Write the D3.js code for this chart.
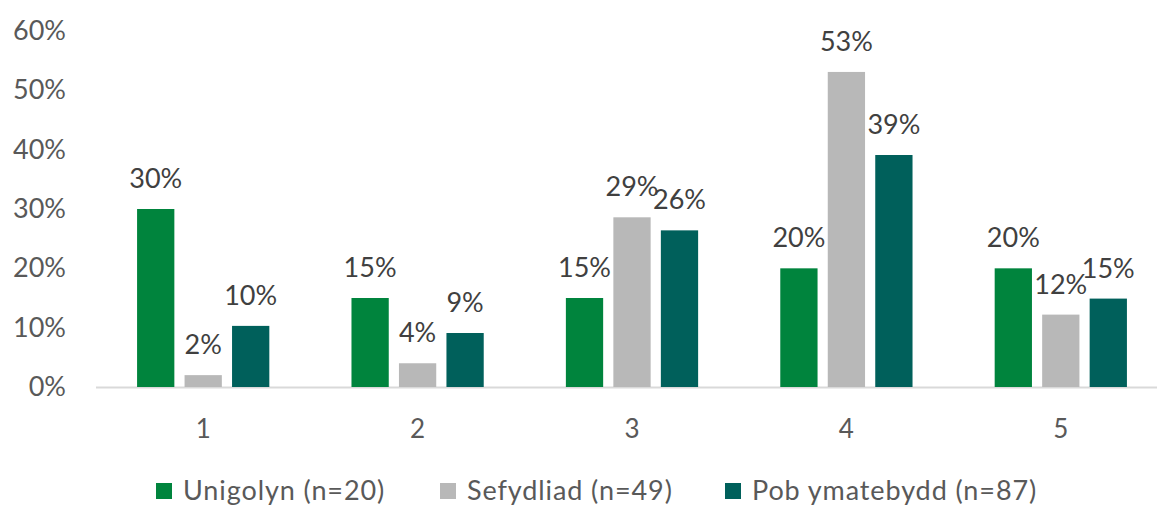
<!DOCTYPE html>
<html>
<head>
<meta charset="utf-8">
<script src="https://cdn.jsdelivr.net/npm/d3@7"></script>
<style>
  body { margin: 0; background: #fff; }
  text { font-family: Lato, "Open Sans", sans-serif; }
</style>
</head>
<body>
<div id="chart"></div>
<script>
// categories and series (percent values)
const categories = ["1", "2", "3", "4", "5"];
const seriesNames = ["Unigolyn (n=20)", "Sefydliad (n=49)", "Pob ymatebydd (n=87)"];
const unigolyn = [30, 15, 15, 20, 20];
const sefydliad = [2.0, 4.0, 28.6, 53.1, 12.2];
const pobYmatebydd = [10.3, 9.1, 26.4, 39.1, 14.9];
const yTicks = [0, 10, 20, 30, 40, 50, 60];
const colors = ["#00843d", "#b8b8b8", "#00605b"];

const seriesValues = [unigolyn, sefydliad, pobYmatebydd];

const width = 1157, height = 506;

const svg = d3.select("#chart")
  .append("svg")
  .attr("width", width)
  .attr("height", height);

const x = d3.scaleBand()
  .domain(categories)
  .range([96, 1168]);

const xSub = d3.scaleBand()
  .domain(seriesNames)
  .range([0, x.bandwidth()])
  .paddingInner(0.215)
  .paddingOuter(0.865);

const y = d3.scaleLinear()
  .domain([0, 60])
  .range([387, 31]);

// y axis labels
const yAxis = d3.axisLeft(y)
  .tickValues(yTicks)
  .tickSize(0)
  .tickPadding(0)
  .tickFormat(d => d + "%");

svg.append("g")
  .attr("transform", "translate(66,0)")
  .call(yAxis)
  .call(g => g.select(".domain").remove())
  .selectAll("text")
  .attr("font-size", 27)
  .attr("fill", "#595959")
  .style("font-family", "Lato, 'Open Sans', sans-serif");

// baseline
svg.append("line")
  .attr("x1", 96).attr("x2", 1168)
  .attr("y1", y(0) + 0.5).attr("y2", y(0) + 0.5)
  .attr("stroke", "#d9d9d9")
  .attr("stroke-width", 2);

// category labels
const xAxis = d3.axisBottom(x).tickSize(0).tickPadding(0);
svg.append("g")
  .attr("transform", `translate(0,${y(0)})`)
  .call(xAxis)
  .call(g => g.select(".domain").remove())
  .selectAll("text")
  .attr("dy", "1.97em")
  .attr("font-size", 26)
  .attr("fill", "#595959")
  .style("font-family", "Lato, 'Open Sans', sans-serif");

// bars
const rows = categories.map((c, i) => ({
  cat: c,
  vals: seriesNames.map((s, j) => ({ series: s, idx: j, value: seriesValues[j][i] }))
}));

const groups = svg.selectAll("g.cat")
  .data(rows)
  .join("g")
  .attr("class", "cat")
  .attr("transform", d => `translate(${x(d.cat)},0)`);

groups.selectAll("rect")
  .data(d => d.vals)
  .join("rect")
  .attr("x", d => xSub(d.series))
  .attr("width", xSub.bandwidth())
  .attr("y", d => y(d.value))
  .attr("height", d => y(0) - y(d.value))
  .attr("fill", d => colors[d.idx]);

// data labels
groups.selectAll("text.lbl")
  .data(d => d.vals)
  .join("text")
  .attr("class", "lbl")
  .attr("x", d => xSub(d.series) + xSub.bandwidth() / 2)
  .attr("y", d => y(d.value) - 21)
  .attr("text-anchor", "middle")
  .attr("font-size", 27)
  .attr("fill", "#404040")
  .text(d => Math.round(d.value) + "%");

// legend
const legendX = [156, 440, 725];
const legend = svg.append("g").attr("class", "legend");
const items = legend.selectAll("g")
  .data(seriesNames)
  .join("g")
  .attr("transform", (d, i) => `translate(${legendX[i]},483)`);

items.append("rect")
  .attr("width", 16)
  .attr("height", 16)
  .attr("fill", (d, i) => colors[i]);

items.append("text")
  .attr("x", 27)
  .attr("y", 8)
  .attr("dy", "0.35em")
  .attr("font-size", 27)
  .attr("letter-spacing", 0.9)
  .attr("fill", "#595959")
  .text(d => d);
</script>
</body>
</html>
